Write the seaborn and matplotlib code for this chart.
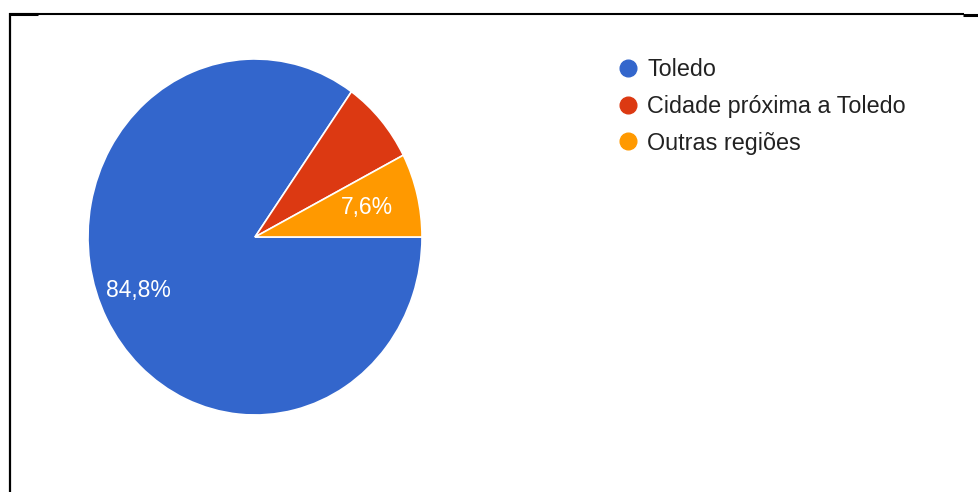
import matplotlib
matplotlib.use("Agg")
import matplotlib.pyplot as plt
from matplotlib.lines import Line2D
import numpy as np
import seaborn as sns

# Origem dos respondentes (%)
categories = ["Toledo", "Cidade próxima a Toledo", "Outras regiões"]
values = [84.8, 7.6, 7.6]
shown_labels = ["84,8%", "", "7,6%"]

sns.set_theme(style="white")
plt.rcParams["font.family"] = ["Liberation Sans", "DejaVu Sans"]
colors = ["#3366CC", "#DC3912", "#FF9900"]

W, H = 979, 492
fig = plt.figure(figsize=(W / 100, H / 100), dpi=100)
fig.patch.set_facecolor("white")

# pie box in pixels (left, top, right, bottom)
px0, py0, px1, py1 = 88, 59, 422, 415
ax = fig.add_axes([px0 / W, 1 - py1 / H, (px1 - px0) / W, (py1 - py0) / H])

wedges, texts, autotexts = ax.pie(
    values,
    colors=colors,
    startangle=0,
    counterclock=False,
    autopct="%1.1f%%",
    pctdistance=0.73,
    wedgeprops=dict(edgecolor="white", linewidth=1.2),
    textprops=dict(color="white", fontsize=16.5),
)
# placement of each percentage label: radial distance and angular shift
label_dist = [0.76, 0.73, 0.69]
label_shift = [-4.0, 0.0, 0.0]
for w, t, lab, d, s in zip(wedges, autotexts, shown_labels, label_dist, label_shift):
    mid = np.deg2rad((w.theta1 + w.theta2) / 2 + s)
    t.set_position((d * np.cos(mid), d * np.sin(mid)))
    t.set_text(lab)
ax.set_aspect("auto")
ax.set_xlim(-1, 1)
ax.set_ylim(-1, 1)
ax.axis("off")

handles = [
    Line2D([0], [0], marker="o", linestyle="none", markersize=12,
           markerfacecolor=c, markeredgecolor=c)
    for c in colors
]
fig.legend(
    handles, categories,
    loc="upper left",
    bbox_to_anchor=(616 / W, 1 - 58 / H),
    frameon=False,
    fontsize=16.8,
    handlelength=1.0,
    handletextpad=0.33,
    labelspacing=0.59,
    borderpad=0,
    borderaxespad=0,
    labelcolor="#222222",
)

# frame lines around the panel
def hline(x0, x1, y, lw):
    fig.add_artist(Line2D([x0 / W, x1 / W], [1 - y / H, 1 - y / H],
                          transform=fig.transFigure, color="black", lw=lw,
                          solid_capstyle="butt"))

def vline(x, y0, y1, lw):
    fig.add_artist(Line2D([x / W, x / W], [1 - y0 / H, 1 - y1 / H],
                          transform=fig.transFigure, color="black", lw=lw,
                          solid_capstyle="butt"))

hline(9, 964, 13.5, 1.5)
hline(9, 38, 14, 2.2)
hline(963, 979, 14.5, 2.2)
vline(10, 12.5, 492, 1.6)

fig.savefig("out.png", dpi=100, facecolor="white")
